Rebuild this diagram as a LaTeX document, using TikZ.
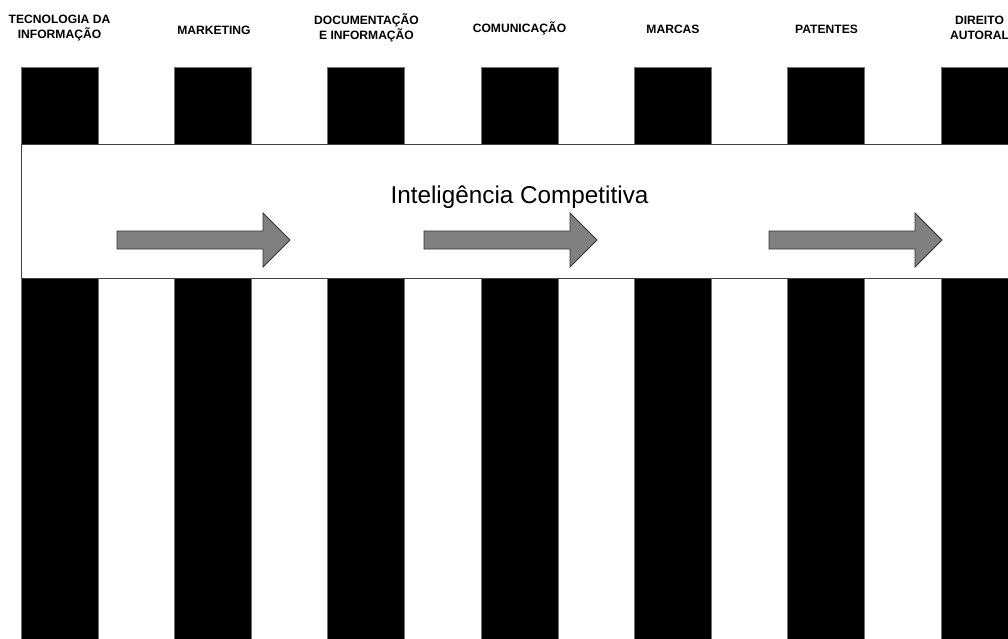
\documentclass[tikz,border=0pt]{standalone}
\usepackage{fontspec}
\setmainfont{Liberation Sans}
\begin{document}
\begin{tikzpicture}[x=1pt,y=-1pt,
  column/.style={fill=black,draw=black!55,line width=0.8pt},
  band/.style={fill=white,draw=black!75,line width=1pt},
  flow/.style={fill=black!50,draw=black!80,line width=0.8pt,line join=miter},
  area/.style={font=\fontsize{12.1}{15}\selectfont\bfseries,align=center,inner sep=0pt},
  headline/.style={font=\fontsize{24.3}{27}\selectfont,inner sep=0pt}]
\useasboundingbox (0,0) rectangle (1008,638);
\clip (0,0) rectangle (1008,638);
\fill[white] (0,0) rectangle (1008,638);

% vertical columns, one per area
\foreach \i in {0,...,6}{
  \pgfmathsetmacro{\xl}{21+\i*153.33}
  \draw[column] (\xl,67) rectangle ++(77,580);
}

% horizontal band crossing all columns
\draw[band] (21,144) rectangle (1020,278);
\node[headline] (title) at (519.5,197) {Inteligência Competitiva};

% block arrows inside the band
\foreach \s in {117,424,769}{
  \draw[flow] (\s,231) -- ++(146,0) -- ++(0,-18) -- ++(27,27)
    -- ++(-27,27) -- ++(0,-18) -- ++(-146,0) -- cycle;
}

% area labels above the columns
\node[area] (ti)   at (59.5,28)  {TECNOLOGIA DA\\INFORMAÇÃO};
\node[area] (mkt)  at (214,30)   {MARKETING};
\node[area] (doc)  at (366.5,28) {DOCUMENTAÇÃO\\E INFORMAÇÃO};
\node[area] (com)  at (519.5,28) {COMUNICAÇÃO};
\node[area] (marc) at (673,29)   {MARCAS};
\node[area] (pat)  at (826.5,29) {PATENTES};
\node[area] (dir)  at (979.5,28) {DIREITO\\AUTORAL};
\end{tikzpicture}
\end{document}
